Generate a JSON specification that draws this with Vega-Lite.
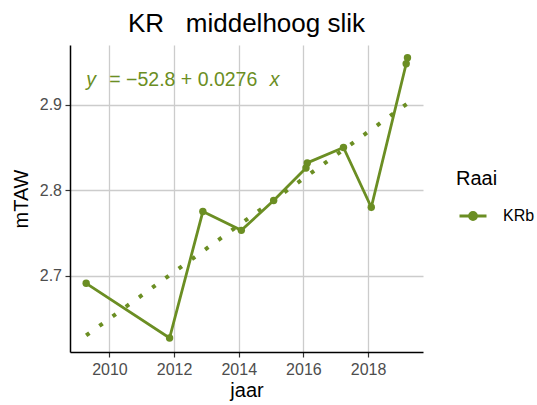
{
  "$schema": "https://vega.github.io/schema/vega-lite/v6.json",
  "width": 353,
  "height": 307,
  "autosize": {"type": "none"},
  "padding": {"left": 70, "top": 45, "right": 114, "bottom": 53},
  "background": "white",
  "title": {
    "text": "KR\u00a0\u00a0\u00a0middelhoog slik",
    "fontSize": 26,
    "fontWeight": "normal",
    "color": "black",
    "anchor": "middle",
    "baseline": "bottom",
    "offset": 9,
    "dy": 27
  },
  "datasets": {
    "meting": [
      {"jaar": 2009.28, "mTAW": 2.691, "Raai": "KRb"},
      {"jaar": 2011.86, "mTAW": 2.627, "Raai": "KRb"},
      {"jaar": 2012.89, "mTAW": 2.775, "Raai": "KRb"},
      {"jaar": 2014.08, "mTAW": 2.753, "Raai": "KRb"},
      {"jaar": 2015.08, "mTAW": 2.788, "Raai": "KRb"},
      {"jaar": 2016.08, "mTAW": 2.826, "Raai": "KRb"},
      {"jaar": 2016.12, "mTAW": 2.832, "Raai": "KRb"},
      {"jaar": 2017.24, "mTAW": 2.850, "Raai": "KRb"},
      {"jaar": 2018.1, "mTAW": 2.780, "Raai": "KRb"},
      {"jaar": 2019.18, "mTAW": 2.948, "Raai": "KRb"},
      {"jaar": 2019.22, "mTAW": 2.955, "Raai": "KRb"}
    ],
    "trend": [
      {"jaar": 2009.28, "mTAW": 2.630},
      {"jaar": 2019.2, "mTAW": 2.901}
    ],
    "vergelijking": [
      {"jaar": 2009.28, "mTAW": 2.9215, "deel": "y", "plaats": "links"},
      {"jaar": 2012.285, "mTAW": 2.9215, "deel": "= −52.8 + 0.0276", "plaats": "midden"},
      {"jaar": 2015.26, "mTAW": 2.9215, "deel": "x", "plaats": "rechts"}
    ]
  },
  "encoding": {
    "x": {
      "field": "jaar",
      "type": "quantitative",
      "title": "jaar",
      "scale": {"domain": [2008.78, 2019.7], "nice": false, "zero": false},
      "axis": {"values": [2010, 2012, 2014, 2016, 2018], "format": "d"}
    },
    "y": {
      "field": "mTAW",
      "type": "quantitative",
      "title": "mTAW",
      "scale": {"domain": [2.6106, 2.97], "nice": false, "zero": false},
      "axis": {"values": [2.7, 2.8, 2.9], "format": ".1f"}
    }
  },
  "layer": [
    {
      "data": {"name": "trend"},
      "mark": {"type": "line", "color": "#6b8e23", "strokeWidth": 4, "strokeDash": [4, 12.3], "strokeCap": "butt"}
    },
    {
      "data": {"name": "meting"},
      "mark": {"type": "line", "strokeWidth": 2.8},
      "encoding": {
        "color": {
          "field": "Raai",
          "type": "nominal",
          "scale": {"domain": ["KRb"], "range": ["#6b8e23"]},
          "legend": {
            "title": "Raai",
            "symbolType": "M-1,0H1M-0.26,0A0.26,0.26 0 1,0 0.26,0A0.26,0.26 0 1,0 -0.26,0Z",
            "symbolSize": 729,
            "symbolStrokeWidth": 2.8,
            "symbolFillColor": "#6b8e23",
            "symbolStrokeColor": "#6b8e23"
          }
        }
      }
    },
    {
      "data": {"name": "meting"},
      "mark": {"type": "point", "filled": true, "opacity": 1, "size": 55, "shape": "circle"},
      "encoding": {
        "color": {"field": "Raai", "type": "nominal", "scale": {"domain": ["KRb"], "range": ["#6b8e23"]}}
      }
    },
    {
      "data": {"name": "vergelijking"},
      "transform": [{"filter": "datum.plaats == 'links'"}],
      "mark": {"type": "text", "align": "left", "baseline": "alphabetic", "fontSize": 19.5, "fontStyle": "italic", "color": "#6b8e23"},
      "encoding": {"text": {"field": "deel"}}
    },
    {
      "data": {"name": "vergelijking"},
      "transform": [{"filter": "datum.plaats == 'midden'"}],
      "mark": {"type": "text", "align": "center", "baseline": "alphabetic", "fontSize": 19.5, "color": "#6b8e23"},
      "encoding": {"text": {"field": "deel"}}
    },
    {
      "data": {"name": "vergelijking"},
      "transform": [{"filter": "datum.plaats == 'rechts'"}],
      "mark": {"type": "text", "align": "right", "baseline": "alphabetic", "fontSize": 19.5, "fontStyle": "italic", "color": "#6b8e23"},
      "encoding": {"text": {"field": "deel"}}
    }
  ],
  "config": {
    "font": "Liberation Sans",
    "view": {"stroke": null},
    "axis": {
      "domainColor": "black",
      "domainWidth": 1.5,
      "tickColor": "#333333",
      "tickWidth": 1.2,
      "tickSize": 5,
      "gridColor": "#cccccc",
      "gridWidth": 1.3,
      "labelFontSize": 16,
      "labelColor": "#4d4d4d",
      "titleFontSize": 20,
      "titleFontWeight": "normal",
      "titleColor": "black"
    },
    "axisX": {"labelPadding": 4, "titlePadding": 3},
    "axisY": {"labelPadding": 3.5, "titlePadding": 8},
    "legend": {
      "orient": "none",
      "legendX": 386,
      "legendY": 124,
      "padding": 0,
      "titleFontSize": 20,
      "titleFontWeight": "normal",
      "titleColor": "black",
      "titlePadding": 12,
      "labelFontSize": 16,
      "labelColor": "black",
      "labelOffset": 15,
      "symbolOffset": 2
    }
  }
}
